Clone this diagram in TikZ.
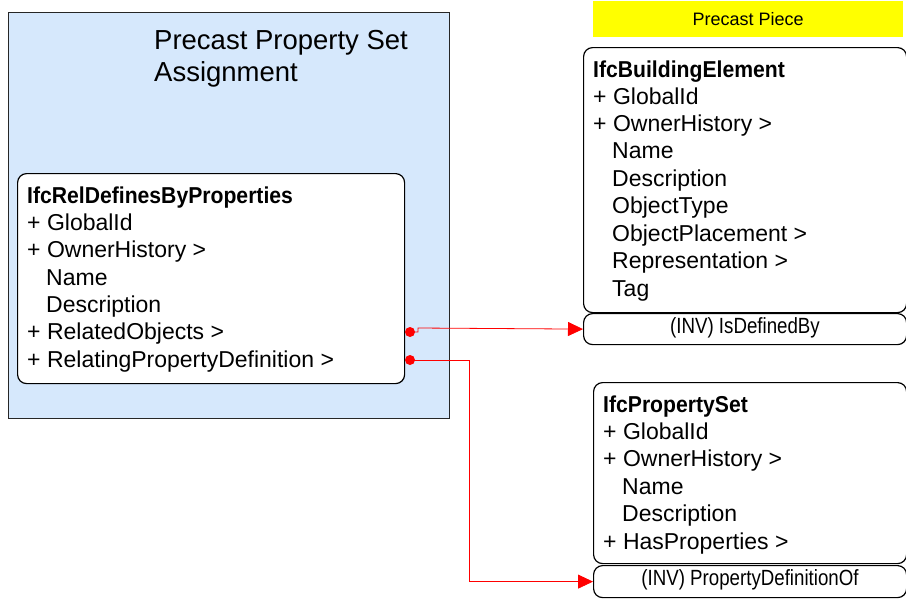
\documentclass[tikz,border=0pt]{standalone}
\usepackage{fontspec}
\setmainfont{Liberation Sans}
\usetikzlibrary{arrows.meta}
\definecolor{groupblue}{HTML}{D6E8FC}
\definecolor{hiyellow}{HTML}{FFFF00}
\definecolor{linkred}{HTML}{FF0000}
\tikzset{
  classbox/.style={draw=black, line width=1.2pt, rounded corners=9pt, fill=white},
  attr/.style={anchor=base west, inner sep=0pt, font=\fontsize{23}{23}\selectfont},
  ctitle/.style={anchor=base west, inner sep=0pt, font=\fontsize{23}{23}\selectfont\bfseries},
  gtext/.style={anchor=base west, inner sep=0pt, font=\fontsize{27.5}{27.5}\selectfont},
  invtext/.style={inner sep=0pt, font=\fontsize{22}{22}\selectfont},
  link/.style={draw=linkred, line width=0.8pt, -{Triangle[length=15pt,width=14pt]}},
  dot/.style={circle, fill=linkred, inner sep=0pt, minimum size=10pt}
}
\begin{document}
\begin{tikzpicture}[x=1pt,y=-1pt]
\useasboundingbox (0,0) rectangle (906,598);
% group
\node[draw=black!85, line width=1.2pt, fill=groupblue, minimum width=441pt, minimum height=406pt, anchor=north west, inner sep=0pt] (group) at (8,12) {};
\node[gtext] (gtitle1) at (154,49) {Precast Property Set};
\node[gtext] (gtitle2) at (154,81) {Assignment};
% left class
\node[classbox, minimum width=387pt, minimum height=210pt, anchor=north west, inner sep=0pt] (rel) at (17,173) {};
\node[ctitle] (relT) at (27,203) {\scalebox{0.92}[1]{IfcRelDefinesByProperties}};
\node[attr] (rel1) at (27,230) {+ GlobalId};
\node[attr] (rel2) at (27,257) {+ OwnerHistory >};
\node[attr] (rel3) at (46,285) {Name};
\node[attr] (rel4) at (46,312) {Description};
\node[attr] (rel5) at (27,339) {+ RelatedObjects >};
\node[attr] (rel6) at (27,367) {+ RelatingPropertyDefinition >};
% precast piece
\node[fill=hiyellow, minimum width=310pt, minimum height=36pt, anchor=north west, inner sep=0pt, font=\fontsize{18}{18}\selectfont] (piece) at (593,1) {Precast Piece};
% building element
\node[classbox, minimum width=323pt, minimum height=265pt, anchor=north west, inner sep=0pt] (be) at (583,47) {};
\node[ctitle] (beT) at (593,77) {\scalebox{0.92}[1]{IfcBuildingElement}};
\node[attr] (be1) at (593,104) {+ GlobalId};
\node[attr] (be2) at (593,131) {+ OwnerHistory >};
\node[attr] (be3) at (612,158.5) {Name};
\node[attr] (be4) at (612,186) {Description};
\node[attr] (be5) at (612,213.5) {ObjectType};
\node[attr] (be6) at (612,241) {ObjectPlacement >};
\node[attr] (be7) at (612,268.5) {Representation >};
\node[attr] (be8) at (612,296) {Tag};
\node[classbox, minimum width=323pt, minimum height=31pt, anchor=north west, inner sep=0pt] (beinv) at (583,313) {};
\node[invtext] (beinvT) at (745,328) {\scalebox{0.85}[1]{(INV) IsDefinedBy}};
% property set
\node[classbox, minimum width=313pt, minimum height=181pt, anchor=north west, inner sep=0pt] (ps) at (593,382) {};
\node[ctitle] (psT) at (603,412) {\scalebox{0.92}[1]{IfcPropertySet}};
\node[attr] (ps1) at (603,439) {+ GlobalId};
\node[attr] (ps2) at (603,466.5) {+ OwnerHistory >};
\node[attr] (ps3) at (622,494) {Name};
\node[attr] (ps4) at (622,521.5) {Description};
\node[attr] (ps5) at (603,549) {+ HasProperties >};
\node[classbox, minimum width=313pt, minimum height=32pt, anchor=north west, inner sep=0pt] (psinv) at (593,565) {};
\node[invtext] (psinvT) at (750,580) {\scalebox{0.85}[1]{(INV) PropertyDefinitionOf}};
% connectors
\node[dot] (d1) at (410,332) {};
\node[dot] (d2) at (410,360) {};
\draw[link] (d1.center) -- (418,332) -- (418,328) -- (beinv.west);
\draw[link] (d2.center) -- (469,360) |- (psinv.west);
\end{tikzpicture}
\end{document}
